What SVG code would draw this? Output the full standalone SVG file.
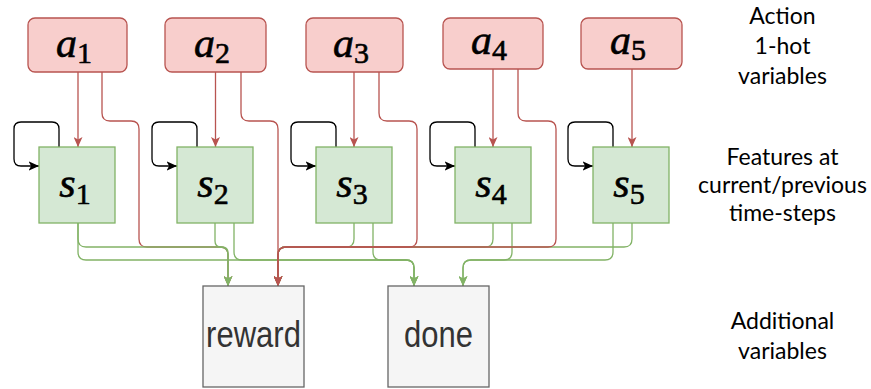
<svg xmlns="http://www.w3.org/2000/svg" width="871" height="389" viewBox="0 0 871 389">
  <defs>
    <marker id="arrRed" markerUnits="userSpaceOnUse" viewBox="0 0 10 9" refX="10" refY="4.5" markerWidth="10" markerHeight="9" orient="auto">
      <path d="M10,4.5 L0,0 L2.5,4.5 L0,9 Z" fill="#b85450"/>
    </marker>
    <marker id="arrGreen" markerUnits="userSpaceOnUse" viewBox="0 0 10 9" refX="10" refY="4.5" markerWidth="10" markerHeight="9" orient="auto">
      <path d="M10,4.5 L0,0 L2.5,4.5 L0,9 Z" fill="#82b366"/>
    </marker>
    <marker id="arrBlack" markerUnits="userSpaceOnUse" viewBox="0 0 10 9" refX="10" refY="4.5" markerWidth="10.5" markerHeight="9.5" orient="auto">
      <path d="M10,4.5 L0,0 L2.5,4.5 L0,9 Z" fill="#000000"/>
    </marker>
  </defs>
  <style>
    .act { fill: #f8cecc; stroke: #b85450; stroke-width: 1.3; }
    .feat { fill: #d5e8d4; stroke: #82b366; stroke-width: 1.3; }
    .out { fill: #f5f5f5; stroke: #666666; stroke-width: 1.3; }
    .math { font-family: Liberation Serif, serif; font-style: italic; font-size: 42px; fill: #000; stroke: #000; stroke-width: 0.6; text-anchor: middle; }
    .sub { font-style: normal; font-size: 30px; }
    .outtxt { font-family: Liberation Sans, sans-serif; font-size: 31px; fill: #333333; text-anchor: middle; }
    .lbl { font-family: Lato, sans-serif; font-size: 23px; fill: #000; text-anchor: middle; }
    .e { fill: none; stroke-width: 1.3; }
    .red { stroke: #b85450; marker-end: url(#arrRed); }
    .green { stroke: #82b366; marker-end: url(#arrGreen); }
    .loop { stroke: #000000; marker-end: url(#arrBlack); }
  </style>

  <!-- connectors -->
  <g id="connectors">
    <!-- a1 to reward, drawn first so the shared green entry stays on top -->
    <path class="e red" d="M102,72 V113 Q102,121 110,121 H131 Q139,121 139,129 V239 Q139,247 147,247 H220 Q228,247 228,255 V286"/>

    <!-- features to reward (left entry) -->
    <path class="e green" d="M78,223 V239 Q78,247 86,247 H220 Q228,247 228,255 V286"/>
    <path class="e green" d="M215,223 V241 Q215,247 221,247 H222 Q228,247 228,253 V286"/>
    <!-- features to reward (right entry) -->
    <path class="e green" d="M354,223 V239 Q354,247 346,247 H286 Q278,247 278,255 V286"/>
    <path class="e green" d="M493,223 V239 Q493,247 485,247 H286 Q278,247 278,255 V286"/>
    <path class="e green" d="M632,223 V239 Q632,247 624,247 H286 Q278,247 278,255 V286"/>
    <!-- features to done -->
    <path class="e green" d="M78,223 V252 Q78,260 86,260 H406 Q414,260 414,268 V286"/>
    <path class="e green" d="M234,223 V252 Q234,260 242,260 H406 Q414,260 414,268 V286"/>
    <path class="e green" d="M373,223 V252 Q373,260 381,260 H406 Q414,260 414,268 V286"/>
    <path class="e green" d="M512,223 V252 Q512,260 504,260 H471 Q463,260 463,268 V286"/>
    <path class="e green" d="M613,223 V252 Q613,260 605,260 H471 Q463,260 463,268 V286"/>

    <!-- actions to reward -->
    <path class="e red" d="M241,72 V113 Q241,121 249,121 H270 Q278,121 278,129 V286"/>
    <path class="e red" d="M379,72 V113 Q379,121 387,121 H409 Q417,121 417,129 V239 Q417,247 409,247 H286 Q278,247 278,255 V286"/>
    <path class="e red" d="M518,69 V113 Q518,121 526,121 H548 Q556,121 556,129 V239 Q556,247 548,247 H286 Q278,247 278,255 V286"/>

    <!-- actions to features -->
    <path class="e red" d="M78,72 V147"/>
    <path class="e red" d="M215.5,72 V147"/>
    <path class="e red" d="M354,72 V147"/>
    <path class="e red" d="M493,69 V147"/>
    <path class="e red" d="M632,69 V147"/>

    <!-- self loops on features -->
    <path class="e loop" d="M59,147 V129 Q59,122 52,122 H21 Q14,122 14,129 V159 Q14,166 21,166 H39"/>
    <path class="e loop" d="M197,147 V129 Q197,122 190,122 H159 Q152,122 152,129 V159 Q152,166 159,166 H177"/>
    <path class="e loop" d="M336,147 V129 Q336,122 329,122 H298 Q291,122 291,129 V159 Q291,166 298,166 H316"/>
    <path class="e loop" d="M475,147 V129 Q475,122 468,122 H437 Q430,122 430,129 V159 Q430,166 437,166 H455"/>
    <path class="e loop" d="M613,147 V129 Q613,122 606,122 H575 Q568,122 568,129 V159 Q568,166 575,166 H593"/>
  </g>

  <!-- action nodes -->
  <g id="a1">
    <rect class="act" x="28" y="18" width="99" height="54" rx="7"/>
    <text class="math" x="74" y="57">a<tspan class="sub" dy="6">1</tspan></text>
  </g>
  <g id="a2">
    <rect class="act" x="165" y="18" width="101" height="54" rx="7"/>
    <text class="math" x="212" y="57">a<tspan class="sub" dy="6">2</tspan></text>
  </g>
  <g id="a3">
    <rect class="act" x="306" y="18" width="97" height="54" rx="7"/>
    <text class="math" x="351" y="57">a<tspan class="sub" dy="6">3</tspan></text>
  </g>
  <g id="a4">
    <rect class="act" x="443" y="18" width="100" height="51" rx="7"/>
    <text class="math" x="489" y="54">a<tspan class="sub" dy="6">4</tspan></text>
  </g>
  <g id="a5">
    <rect class="act" x="581" y="18" width="101" height="51" rx="7"/>
    <text class="math" x="628" y="54">a<tspan class="sub" dy="6">5</tspan></text>
  </g>

  <!-- feature nodes -->
  <g id="s1">
    <rect class="feat" x="39" y="147" width="76" height="76"/>
    <text class="math" x="75" y="197">s<tspan class="sub" dy="7">1</tspan></text>
  </g>
  <g id="s2">
    <rect class="feat" x="177" y="147" width="76" height="76"/>
    <text class="math" x="213" y="197">s<tspan class="sub" dy="7">2</tspan></text>
  </g>
  <g id="s3">
    <rect class="feat" x="316" y="147" width="76" height="76"/>
    <text class="math" x="352" y="197">s<tspan class="sub" dy="7">3</tspan></text>
  </g>
  <g id="s4">
    <rect class="feat" x="455" y="147" width="76" height="76"/>
    <text class="math" x="491" y="197">s<tspan class="sub" dy="7">4</tspan></text>
  </g>
  <g id="s5">
    <rect class="feat" x="593" y="147" width="76" height="76"/>
    <text class="math" x="629" y="197">s<tspan class="sub" dy="7">5</tspan></text>
  </g>

  <!-- output nodes -->
  <g id="reward">
    <rect class="out" x="203" y="286" width="101" height="101"/>
    <text class="outtxt" transform="translate(253.5,347) scale(1,1.2)">reward</text>
  </g>
  <g id="done">
    <rect class="out" x="388" y="286" width="101" height="101"/>
    <text class="outtxt" transform="translate(438.5,347) scale(1,1.2)">done</text>
  </g>

  <!-- row captions -->
  <g id="captions">
    <text class="lbl" x="782.5" y="23.5">Action</text>
    <text class="lbl" x="782.5" y="53.5">1-hot</text>
    <text class="lbl" x="782.5" y="83.5">variables</text>
    <text class="lbl" x="782.5" y="165">Features at</text>
    <text class="lbl" x="782.5" y="193">current/previous</text>
    <text class="lbl" x="782.5" y="220.5">time-steps</text>
    <text class="lbl" x="782.5" y="329">Additional</text>
    <text class="lbl" x="782.5" y="359">variables</text>
  </g>
</svg>
